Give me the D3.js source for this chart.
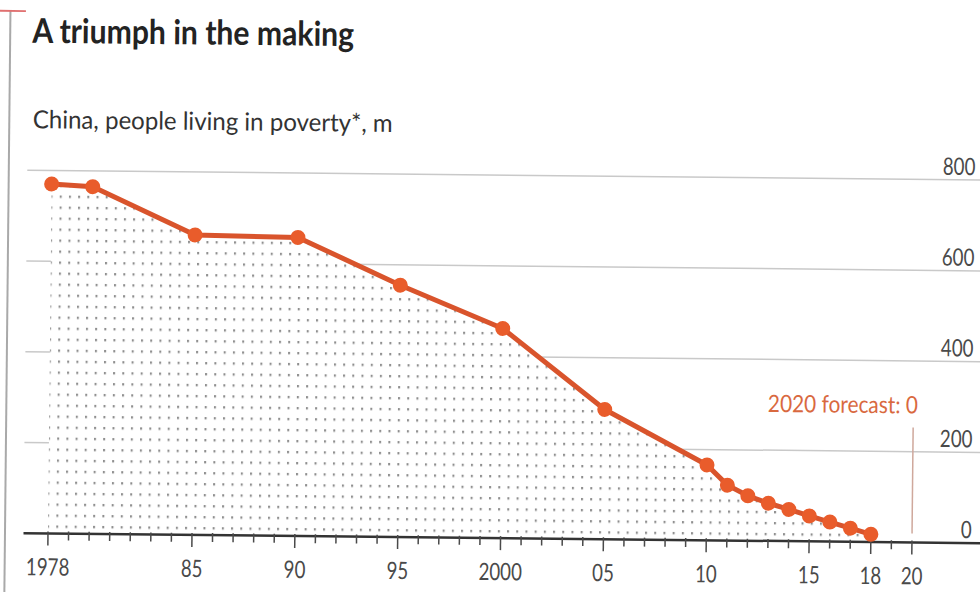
<!DOCTYPE html>
<html>
<head>
<meta charset="utf-8">
<script src="https://cdn.jsdelivr.net/npm/d3@7"></script>
<style>
  html, body { margin: 0; padding: 0; background: #fff; }
  svg { display: block; }
  text { font-family: Lato, "Open Sans", "DejaVu Sans", sans-serif; }
</style>
</head>
<body>
<svg id="chart" width="980" height="592"></svg>
<script>
// China, people living in poverty (millions)
const years = [1978, 1980, 1985, 1990, 1995, 2000, 2005, 2010, 2011, 2012, 2013, 2014, 2015, 2016, 2017, 2018];
const poorMillions = [770, 765, 661, 658, 555, 462, 286, 166, 122, 99, 83, 70, 56, 43, 30, 17];

const yTicks = [0, 200, 400, 600, 800];
const xLabelYears = [1978, 1985, 1990, 1995, 2000, 2005, 2010, 2015, 2018, 2020];
const xLabelText = ["1978", "85", "90", "95", "2000", "05", "10", "15", "18", "20"];

const forecastYear = 2020;
const forecastValue = 0;

const titleText = "A triumph in the making";
const subtitleText = "China, people living in poverty*, m";

const W = 980, H = 592;
const svg = d3.select("#chart");

// whole page sits very slightly askew
const root = svg.append("g").attr("transform", `rotate(0.6, ${W / 2}, ${H / 2})`);

const x = d3.scaleLinear().domain([1978, 2020]).range([50.5, 914.5]);
const y = d3.scaleLinear().domain([0, 800]).range([538, 175]);

// squeeze text horizontally (narrow house typeface)
function condense(sel, k) {
  sel.each(function () {
    const t = d3.select(this);
    const tx = +t.attr("x"), ty = +t.attr("y");
    t.attr("x", 0).attr("y", 0).attr("transform", `translate(${tx},${ty}) scale(${k},1)`);
  });
}
function fitWidth(sel, w) {
  sel.each(function () {
    const k = w / this.getComputedTextLength();
    condense(d3.select(this), k);
  });
}

// frame rule on the left with the red tag
root.append("line")
  .attr("x1", 7.5).attr("x2", 7.5).attr("y1", 16).attr("y2", 620)
  .attr("stroke", "#a9a9a9").attr("stroke-width", 2);
root.append("line")
  .attr("x1", -10).attr("x2", 23).attr("y1", 16).attr("y2", 16)
  .attr("stroke", "#e07070").attr("stroke-width", 2);

// title & subtitle
root.append("text")
  .attr("x", 29.5).attr("y", 47.5)
  .attr("font-size", 34).attr("font-weight", 700).attr("fill", "#232323")
  .text(titleText)
  .call(fitWidth, 322);

root.append("text")
  .attr("x", 31).attr("y", 133)
  .attr("font-size", 25).attr("fill", "#333")
  .text(subtitleText)
  .call(fitWidth, 360);

// gridlines
root.append("g").selectAll("line")
  .data(yTicks.filter(d => d !== 0))
  .join("line")
  .attr("x1", 26).attr("x2", W + 20)
  .attr("y1", d => y(d)).attr("y2", d => y(d))
  .attr("stroke", "#c9c9c9").attr("stroke-width", 1.5);

// y labels on the right, sitting on the lines
root.append("g").selectAll("text")
  .data(yTicks)
  .join("text")
  .attr("x", 974).attr("y", d => y(d) - 5)
  .attr("text-anchor", "end")
  .attr("font-size", 24).attr("fill", "#4a4a4a")
  .text(d => d)
  .call(condense, 0.78);

// dotted area under the line
const defs = svg.append("defs");
const pat = defs.append("pattern")
  .attr("id", "dots")
  .attr("patternUnits", "userSpaceOnUse")
  .attr("x", x(1978) - 1).attr("y", y(0) - 8)
  .attr("width", 9.2).attr("height", 11);
pat.append("rect").attr("width", 9.2).attr("height", 11).attr("fill", "#fff");
pat.append("rect").attr("x", 0).attr("y", 0).attr("width", 2).attr("height", 2.4).attr("fill", "#8f8f8f");

const series = years.map((yr, i) => ({ yr, v: poorMillions[i] }));

const area = d3.area()
  .x(d => x(d.yr))
  .y0(y(0))
  .y1(d => y(d.v));

root.append("path")
  .datum(series)
  .attr("d", area)
  .attr("fill", "url(#dots)");

// forecast marker
root.append("line")
  .attr("x1", x(forecastYear)).attr("x2", x(forecastYear))
  .attr("y1", 423).attr("y2", y(forecastValue) - 9)
  .attr("stroke", "#cfa89c").attr("stroke-width", 1.5);

root.append("text")
  .attr("x", x(forecastYear) + 4.5).attr("y", 409)
  .attr("text-anchor", "end")
  .attr("font-size", 24).attr("fill", "#d9693f")
  .text(`${forecastYear} forecast: ${forecastValue}`)
  .call(fitWidth, 150);

// x axis: baseline, yearly ticks, labels
const axisG = root.append("g");
axisG.append("line")
  .attr("x1", 26).attr("x2", W + 20)
  .attr("y1", y(0)).attr("y2", y(0))
  .attr("stroke", "#333").attr("stroke-width", 2.5);

const allYears = d3.range(1978, 2021);
axisG.selectAll("line.tick")
  .data(allYears)
  .join("line")
  .attr("class", "tick")
  .attr("x1", d => x(d)).attr("x2", d => x(d))
  .attr("y1", y(0) - 2)
  .attr("y2", d => y(0) + (xLabelYears.includes(d) ? 12 : 7))
  .attr("stroke", "#4a4a4a").attr("stroke-width", 1.5);

axisG.selectAll("text")
  .data(xLabelYears)
  .join("text")
  .attr("x", d => x(d)).attr("y", 580)
  .attr("text-anchor", "middle")
  .attr("font-size", 24).attr("fill", "#4a4a4a")
  .text((d, i) => xLabelText[i])
  .call(condense, 0.78);

// the line and its markers
const line = d3.line().x(d => x(d.yr)).y(d => y(d.v));
root.append("path")
  .datum(series)
  .attr("d", line)
  .attr("fill", "none")
  .attr("stroke", "#d9542c")
  .attr("stroke-width", 5)
  .attr("stroke-linejoin", "round");

root.append("g").selectAll("circle")
  .data(series)
  .join("circle")
  .attr("cx", d => x(d.yr)).attr("cy", d => y(d.v))
  .attr("r", 7.5)
  .attr("fill", "#e95c2b");
</script>
</body>
</html>
